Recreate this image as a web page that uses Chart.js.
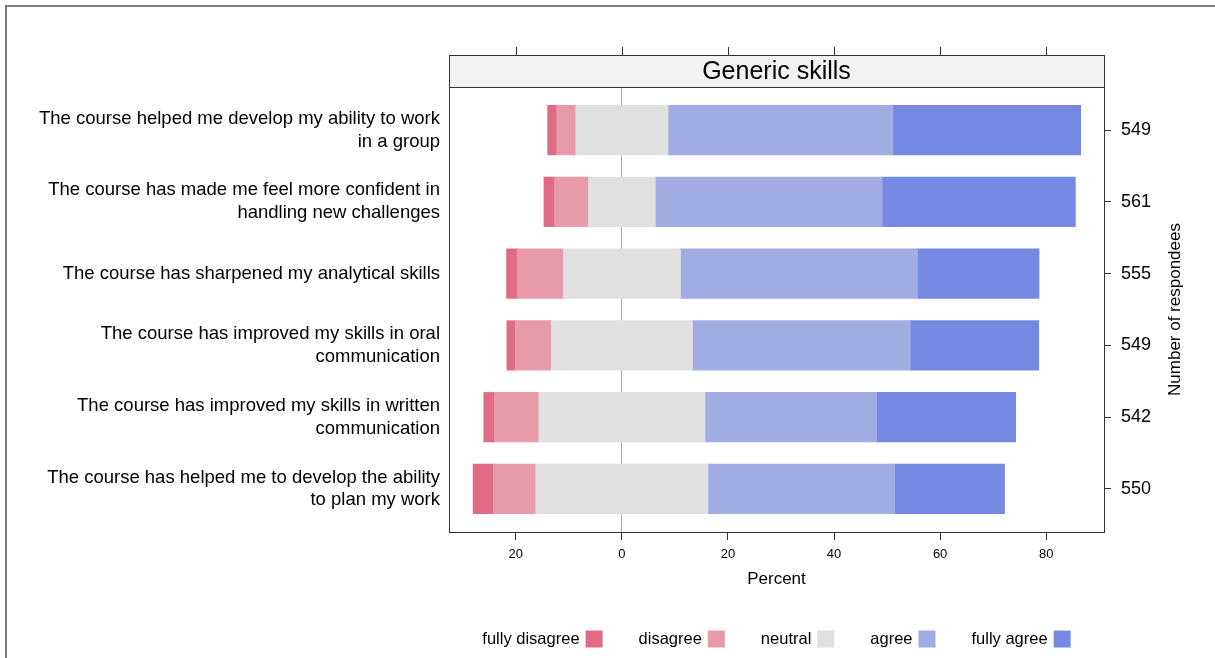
<!DOCTYPE html>
<html>
<head>
<meta charset="utf-8">
<script src="https://cdn.jsdelivr.net/npm/chart.js@4.4.1/dist/chart.umd.min.js"></script>
<style>
    html, body { margin: 0; padding: 0; background: #fff; overflow: hidden; }
    #wrap { position: relative; width: 1215px; height: 658px; overflow: hidden; }
    #frame { position: absolute; left: 5px; top: 5px; width: 1240px; height: 700px; border-left: 2px solid #7c7c7c; border-top: 2px solid #7c7c7c; pointer-events: none; }
</style>
</head>
<body>
<div id="wrap">
    <canvas id="myLikertChart" width="1215" height="658"></canvas>
    <div id="frame"></div>
</div>
<script>
// questions, top to bottom
const questions = [
    ['The course helped me develop my ability to work', 'in a group'],
    ['The course has made me feel more confident in', 'handling new challenges'],
    ['The course has sharpened my analytical skills'],
    ['The course has improved my skills in oral', 'communication'],
    ['The course has improved my skills in written', 'communication'],
    ['The course has helped me to develop the ability', 'to plan my work']
]
const respondents = [549, 561, 555, 549, 542, 550]

// percentages
const fullyDisagree = [1.7, 2.0, 2.0, 1.6, 2.0, 3.8]
const disagree = [3.6, 6.4, 8.7, 6.8, 8.4, 8.0]
const neutral = [17.3, 12.5, 22.0, 26.5, 31.2, 32.4]
const agree = [42.4, 42.8, 44.7, 41.1, 32.4, 35.2]
const fullyAgree = [35.4, 36.4, 22.9, 24.2, 26.2, 20.7]

const levels = ['fully disagree', 'disagree', 'neutral', 'agree', 'fully agree']
const colors = ['#df6b87', '#e79baa', '#e0e0e0', '#a1ace2', '#7589e3']

const xTicks = [-20, 0, 20, 40, 60, 80]
const panelTitle = 'Generic skills'

const FONT = "Arial, 'Liberation Sans', sans-serif"
Chart.defaults.font.family = FONT
Chart.defaults.color = '#000'

// each row: y index, x value (negative side goes left of zero)
const toPoints = (vals, f) => vals.map((v, i) => ({ x: f(v), y: i }))

const bar = (label, data, color) => ({
    label: label,
    data: data,
    backgroundColor: color,
    borderWidth: 0,
    inflateAmount: 0.6,
    barThickness: 49
})

// negative stack: first dataset sits next to zero
const datasets = [
    bar('neutral', toPoints(neutral, v => -v / 2), colors[2]),
    bar('disagree', toPoints(disagree, v => -v), colors[1]),
    bar('fully disagree', toPoints(fullyDisagree, v => -v), colors[0]),
    bar('neutral', toPoints(neutral, v => v / 2), colors[2]),
    bar('agree', toPoints(agree, v => v), colors[3]),
    bar('fully agree', toPoints(fullyAgree, v => v), colors[4])
]

const rowTicks = (s) => { s.ticks = questions.map((q, i) => ({ value: i })) }

const panelPlugin = {
    id: 'panel',
    afterDraw(chart) {
        const ctx = chart.ctx
        const a = chart.chartArea
        const x = chart.scales.x
        const stripH = 32
        ctx.save()

        // strip with title
        ctx.fillStyle = '#f2f2f2'
        ctx.fillRect(a.left, a.top - stripH, a.right - a.left, stripH)
        ctx.strokeStyle = '#333'
        ctx.lineWidth = 1
        ctx.strokeRect(Math.round(a.left) + 0.5, Math.round(a.top - stripH) + 0.5, Math.round(a.right - a.left), stripH)
        ctx.strokeRect(Math.round(a.left) + 0.5, Math.round(a.top) + 0.5, Math.round(a.right - a.left), Math.round(a.bottom - a.top))
        ctx.fillStyle = '#000'
        ctx.font = '25px ' + FONT
        ctx.textAlign = 'center'
        ctx.textBaseline = 'middle'
        ctx.fillText(panelTitle, (a.left + a.right) / 2, a.top - stripH / 2 + 1)

        // ticks on top of the strip
        ctx.beginPath()
        xTicks.forEach(v => {
            const px = Math.round(x.getPixelForValue(v)) + 0.5
            ctx.moveTo(px, a.top - stripH)
            ctx.lineTo(px, a.top - stripH - 8)
        })
        ctx.stroke()

        // right axis title, reading upwards
        ctx.save()
        ctx.translate(1175, (a.top + a.bottom) / 2)
        ctx.rotate(-Math.PI / 2)
        ctx.font = '17px ' + FONT
        ctx.fillText('Number of respondees', 0, 0)
        ctx.restore()

        // legend: text then box
        ctx.font = '16.5px ' + FONT
        ctx.textAlign = 'left'
        const box = 17, gapIn = 6, gapOut = 36
        const widths = levels.map(l => ctx.measureText(l).width + gapIn + box)
        const total = widths.reduce((p, c) => p + c, 0) + gapOut * (levels.length - 1)
        let lx = (a.left + a.right) / 2 - total / 2
        const ly = 639
        levels.forEach((l, i) => {
            const tw = ctx.measureText(l).width
            ctx.fillStyle = '#000'
            ctx.fillText(l, lx, ly)
            ctx.fillStyle = colors[i]
            ctx.fillRect(lx + tw + gapIn, ly - box / 2, box, box)
            lx += widths[i] + gapOut
        })
        ctx.restore()
    }
}

const config = {
    type: 'bar',
    data: { datasets: datasets },
    options: {
        indexAxis: 'y',
        responsive: false,
        animation: false,
        layout: { padding: { top: 87, bottom: 64, left: 0, right: 0 } },
        plugins: {
            legend: { display: false },
            tooltip: { enabled: false }
        },
        scales: {
            x: {
                type: 'linear',
                min: -32.6,
                max: 90.9,
                stacked: true,
                afterBuildTicks: (s) => { s.ticks = xTicks.map(v => ({ value: v })) },
                afterFit: (s) => { s.height = 62 },
                ticks: {
                    callback: (v) => Math.abs(v),
                    font: { size: 13 },
                    color: '#000',
                    padding: 7,
                    maxRotation: 0
                },
                grid: {
                    color: (c) => (c.tick && c.tick.value === 0) ? '#a8a8a8' : 'rgba(0,0,0,0)',
                    tickColor: '#333',
                    tickLength: 8
                },
                border: { display: false },
                title: {
                    display: true,
                    text: 'Percent',
                    font: { size: 17 },
                    color: '#000',
                    padding: { top: 4, bottom: 4 }
                }
            },
            y: {
                type: 'linear',
                min: -0.6,
                max: 5.6,
                reverse: true,
                stacked: true,
                offset: false,
                afterBuildTicks: rowTicks,
                afterFit: (s) => { s.width = 449 },
                ticks: {
                    callback: (v) => questions[v],
                    font: { size: 18.5, lineHeight: 1.24 },
                    color: '#000',
                    padding: 9,
                    autoSkip: false
                },
                grid: { display: false, drawTicks: false, offset: false },
                border: { display: false }
            },
            y2: {
                type: 'linear',
                position: 'right',
                display: true,
                min: -0.6,
                max: 5.6,
                reverse: true,
                offset: false,
                afterBuildTicks: rowTicks,
                afterFit: (s) => { s.width = 111 },
                ticks: {
                    callback: (v) => respondents[v],
                    font: { size: 18 },
                    color: '#000',
                    padding: 10,
                    autoSkip: false
                },
                grid: {
                    drawOnChartArea: false,
                    offset: false,
                    tickColor: '#333',
                    tickLength: 7
                },
                border: { display: false }
            }
        }
    },
    plugins: [panelPlugin]
}

const myLikertChart = new Chart(document.getElementById('myLikertChart'), config)
</script>
</body>
</html>
